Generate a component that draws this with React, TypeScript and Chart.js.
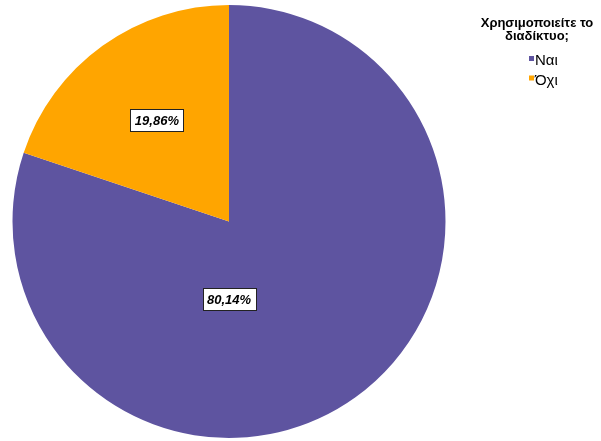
import React, { useEffect, useRef } from "react";
import { Chart, registerables } from "chart.js";

Chart.register(...registerables);

const categories = ["Ναι", "Όχι"];
const values = [80.14, 19.86];
const valueLabels = ["80,14%", "19,86%"];
const colors = ["#5E54A0", "#FFA500"];
const legendTitle = ["Χρησιμοποιείτε το", "διαδίκτυο;"];

const labelPlugin = {
  id: "boxLabels",
  afterDatasetsDraw(chart: any) {
    const ctx = chart.ctx;
    const meta = chart.getDatasetMeta(0);
    const placements = [
      { frac: 0.36, angle: Math.PI / 2 },
      { frac: 0.57, angle: null as number | null },
    ];
    meta.data.forEach((arc: any, i: number) => {
      const p = arc.getProps(["x", "y", "startAngle", "endAngle", "outerRadius"], true);
      const pl = placements[i];
      const a = pl.angle !== null ? pl.angle : (p.startAngle + p.endAngle) / 2;
      const r = p.outerRadius * pl.frac;
      const cx = p.x + Math.cos(a) * r;
      const cy = p.y + Math.sin(a) * r + (i === 0 ? 0 : -1);
      ctx.save();
      ctx.font = "italic bold 13px 'Liberation Sans', Arial, sans-serif";
      const w = 53;
      const h = 22;
      ctx.fillStyle = "#ffffff";
      ctx.fillRect(Math.round(cx - w / 2) + 0.5, Math.round(cy - h / 2) + 0.5, w, h);
      ctx.strokeStyle = "#222222";
      ctx.lineWidth = 1;
      ctx.strokeRect(Math.round(cx - w / 2) + 0.5, Math.round(cy - h / 2) + 0.5, w, h);
      ctx.fillStyle = "#000000";
      ctx.textAlign = "center";
      ctx.textBaseline = "middle";
      ctx.fillText(valueLabels[i], cx, cy + 1);
      ctx.restore();
    });
  },
};

const legendPlugin = {
  id: "customLegend",
  afterDraw(chart: any) {
    const ctx = chart.ctx;
    ctx.save();
    ctx.fillStyle = "#000000";
    ctx.textAlign = "center";
    ctx.textBaseline = "alphabetic";
    ctx.font = "bold 13px 'Liberation Sans', Arial, sans-serif";
    legendTitle.forEach((t, i) => ctx.fillText(t, 537, 27 + i * 13));
    ctx.font = "15px 'Liberation Sans', Arial, sans-serif";
    ctx.textAlign = "left";
    categories.forEach((c, i) => {
      const base = 65 + i * 19.5;
      ctx.fillStyle = colors[i];
      ctx.fillRect(529, base - 9, 5, 5);
      ctx.fillStyle = "#000000";
      ctx.fillText(c, 535, base);
    });
    ctx.restore();
  },
};

export default function App() {
  const ref = useRef<HTMLCanvasElement | null>(null);
  useEffect(() => {
    if (!ref.current) return;
    const chart = new Chart(ref.current, {
      type: "pie",
      data: {
        labels: categories,
        datasets: [
          {
            data: values,
            backgroundColor: colors,
            borderWidth: 0,
          },
        ],
      },
      options: {
        animation: false,
        responsive: false,
        maintainAspectRatio: false,
        layout: { padding: { left: 12, right: 155, top: 5, bottom: 3 } },
        plugins: {
          legend: { display: false },
          tooltip: { enabled: false },
        },
      },
      plugins: [labelPlugin, legendPlugin],
    });
    return () => chart.destroy();
  }, []);
  return (
    <div style={{ position: "fixed", left: 0, top: 0, width: 601, height: 441, background: "#fff" }}>
      <canvas ref={ref} width={601} height={441} style={{ width: 601, height: 441 }} />
    </div>
  );
}
